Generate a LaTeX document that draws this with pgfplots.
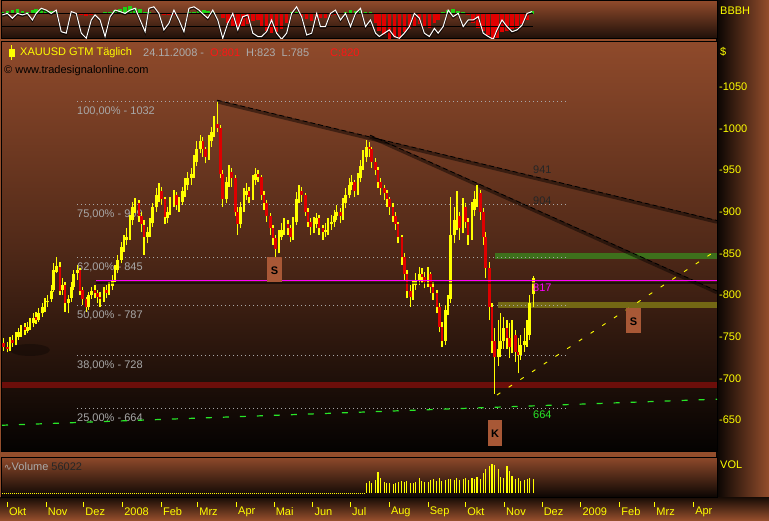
\documentclass[border=0pt]{standalone}
\usepackage{fontspec}
\setmainfont{Liberation Sans}
\newfontfamily\dejavu{DejaVu Sans}
\usepackage{pgfplots}
\pgfplotsset{compat=1.18}
\usepackage{pgfplotstable}

\definecolor{frame}{RGB}{148,78,44}
\definecolor{rightdark}{RGB}{8,4,2}
\definecolor{stripdark}{RGB}{22,11,5}
\definecolor{paneltop}{RGB}{143,74,43}
\definecolor{panelmid}{RGB}{80,41,24}
\definecolor{panelbot}{RGB}{4,2,1}
\definecolor{fibgray}{RGB}{168,168,168}
\definecolor{hdrgray}{RGB}{172,172,172}
\definecolor{hdrred}{RGB}{255,20,20}
\definecolor{candleyellow}{RGB}{255,255,0}
\definecolor{candlered}{RGB}{222,0,0}
\definecolor{bandgreen}{RGB}{62,112,28}
\definecolor{bandolive}{RGB}{115,104,20}
\definecolor{bandred}{RGB}{108,14,10}
\definecolor{fibgreen}{RGB}{40,230,40}
\definecolor{magentaline}{RGB}{255,0,255}
\definecolor{boxbrown}{RGB}{168,88,54}
\definecolor{histgreen}{RGB}{30,210,20}
\definecolor{histred}{RGB}{225,0,0}

\newcommand\lbl{\fontsize{11}{13}\selectfont}

% daily bars, x = days since 1 Oct 2007
\pgfplotstableread{
d o h l c
-3 742 748 733 738
0 738 744 731 735
2 735 750 733 745
4 746 752 738 742
7 742 756 740 750
9 750 760 746 755
11 754 764 750 760
14 761 766 752 758
16 757 768 754 762
18 762 772 758 765
21 766 778 762 772
23 773 780 765 770
25 770 784 768 778
28 778 790 774 785
30 784 796 780 790
32 791 800 786 793
35 795 812 792 805
37 806 838 804 830
39 828 846 826 835
42 834 840 800 805
44 806 820 800 812
46 812 816 780 790
49 790 800 778 795
51 796 815 792 810
53 810 830 806 825
56 826 836 818 830
58 830 832 800 805
60 806 810 788 795
63 795 798 780 785
65 786 804 782 800
67 800 810 795 805
70 806 812 796 802
72 802 806 790 798
74 798 804 786 795
77 795 810 792 805
79 806 812 796 802
81 802 816 800 810
84 811 824 806 818
86 818 836 815 830
88 830 848 826 842
91 842 864 838 858
93 858 872 852 865
95 866 880 860 870
98 870 896 866 890
100 890 912 884 905
102 905 916 898 910
105 910 914 888 895
107 895 900 875 885
109 884 890 848 870
112 870 882 862 875
114 876 892 870 885
116 886 910 882 905
119 905 928 900 920
121 920 934 912 925
123 925 930 908 915
126 915 918 885 893
128 892 906 886 900
130 900 918 896 912
133 912 926 906 920
135 920 924 902 908
137 908 918 900 912
140 912 930 908 925
142 925 940 918 932
144 932 948 926 940
147 940 952 932 945
149 945 968 940 960
151 960 985 955 975
154 975 992 970 985
156 985 990 966 975
158 975 978 958 966
161 966 992 962 985
163 985 1002 978 995
165 995 1015 990 1005
168 1005 1032 995 1000
170 1000 1004 940 945
172 945 950 906 915
175 915 942 910 935
177 935 956 930 948
179 948 952 930 940
182 940 944 895 900
184 900 906 872 885
186 885 912 880 905
189 905 928 900 920
191 920 934 914 925
193 925 930 910 918
196 918 944 914 938
198 938 952 932 945
200 945 950 935 942
203 942 944 914 920
205 920 925 902 910
207 910 914 888 895
210 895 898 872 880
212 880 884 860 868
214 868 872 845 855
217 855 878 850 870
219 870 886 866 878
221 878 892 872 885
224 885 890 872 880
226 880 884 864 870
228 870 894 866 888
231 888 924 884 915
233 915 932 910 925
235 925 930 912 920
238 920 922 895 900
240 900 904 882 888
242 888 892 872 882
245 882 894 874 885
247 885 898 880 892
249 892 896 872 880
252 880 884 866 876
254 876 886 870 878
256 878 892 872 885
259 885 896 878 888
261 888 902 882 895
263 895 908 890 900
266 900 904 886 895
268 895 916 890 910
270 910 928 904 920
273 920 940 916 932
275 932 944 926 935
277 935 938 918 925
280 925 946 920 940
282 940 962 935 955
284 955 974 950 965
287 965 986 960 978
289 978 984 966 975
291 975 978 952 960
294 960 964 944 950
296 950 954 928 935
298 935 940 920 928
301 928 932 914 922
303 922 926 906 915
305 915 918 896 905
308 905 910 888 895
310 895 900 878 885
312 885 888 862 870
315 870 872 836 845
317 845 850 818 825
319 825 830 796 805
322 805 812 786 798
324 798 818 794 812
326 812 826 806 818
329 818 834 812 825
331 825 832 814 822
333 822 828 808 815
336 815 834 810 825
338 825 828 802 810
340 810 816 794 802
343 802 806 778 785
345 785 790 755 762
347 762 768 737 745
350 745 788 740 782
352 782 800 776 795
354 795 918 790 872
357 872 905 862 890
359 890 925 878 895
361 895 900 866 880
364 880 916 874 905
366 905 910 880 888
368 888 892 860 872
371 872 912 866 902
373 902 925 895 915
375 915 932 905 922
378 922 926 890 900
380 900 904 860 870
382 870 876 820 832
385 832 840 770 785
387 785 790 730 745
389 745 760 681 725
392 725 770 715 735
394 735 778 725 745
396 745 774 735 760
399 760 770 735 748
401 748 766 724 738
403 738 770 730 752
406 752 758 720 732
408 732 748 706 728
410 728 752 722 740
413 740 760 732 745
415 745 770 738 752
417 752 800 746 790
420 801 823 785 820
}\ohlc

% oscillator (osc) and its histogram (h, around the 70 line)
\pgfplotstableread{
d osc h
-4 67 8
0 72 10
4 56 12
8 72 15
12 67 10
16 72 8
20 50 12
23 72 15
27 89 18
31 83 14
35 72 10
39 83 8
43 11 4
47 6 4
51 78 3
55 72 2
59 6 -3
63 -11 -6
67 50 -4
70 67 2
74 50 3
78 -5 5
82 61 6
86 83 12
90 78 18
94 72 22
98 83 25
102 89 20
106 50 15
110 11 8
113 89 6
117 94 4
121 72 2
125 17 -2
129 39 -4
133 83 -3
137 50 2
141 11 4
145 89 6
149 94 8
153 83 10
157 67 12
160 56 10
164 83 8
168 50 4
172 -11 -15
176 39 -30
180 72 -42
184 17 -45
188 61 -40
192 67 -35
196 6 -25
200 -5 -20
203 -5 -40
207 11 -55
211 50 -62
215 6 -60
219 -14 -50
223 6 -30
227 72 8
231 94 6
235 61 -10
239 0 -18
243 6 -22
247 72 -20
250 28 -15
254 28 -12
258 72 -8
262 83 -5
266 50 4
270 72 8
274 28 12
278 72 10
282 89 12
286 28 8
290 50 5
294 6 -30
297 -5 -55
301 6 -70
305 17 -85
309 -5 -80
313 -11 -75
317 6 -60
321 28 -50
325 72 -40
329 56 -35
333 6 -40
337 -5 -45
341 22 -30
344 6 -20
348 28 5
352 83 12
356 61 15
360 72 10
364 28 6
368 50 -5
372 50 -30
376 61 -45
380 6 -55
384 -5 -70
388 -14 -85
391 17 -80
395 50 -60
399 28 -55
403 11 -50
407 17 -45
411 33 -35
415 72 -20
419 78 10
}\osc

% traded volume
\pgfplotstableread{
d v
287 42000
289 48000
291 40000
294 52000
296 84000
298 60000
301 44000
303 40000
305 42000
308 38000
310 40000
312 46000
315 50000
317 44000
319 48000
322 42000
324 40000
326 44000
329 62000
331 48000
333 44000
336 46000
338 52000
340 56000
343 48000
345 60000
347 50000
350 52000
352 56000
354 58000
357 54000
359 60000
361 52000
364 58000
366 62000
368 54000
371 60000
373 56000
375 66000
378 58000
380 80000
382 98000
385 110000
387 118000
389 112000
392 96000
394 64000
396 60000
399 108000
401 90000
403 70000
406 56000
408 60000
410 48000
413 52000
415 56000
417 62000
420 56022
}\vol

\tikzset{
  fibdot/.style={draw=fibgray, line width=0.9pt, dash pattern=on 1pt off 3pt},
  fiblabel/.style={anchor=west, inner sep=0pt, yshift=-10pt, text=fibgray, font=\lbl},
  trendband/.style={draw=black, opacity=0.45, line width=3.5pt},
  trenddash/.style={draw=black, line width=0.8pt, dash pattern=on 5pt off 3pt},
  hdr/.style={anchor=west, inner sep=0pt, font=\lbl},
}
\pgfplotsset{panel/.style={anchor=south west, at={(0pt,0pt)}, scale only axis,
  width=715pt, xmin=-4.3, xmax=566.7}}

\begin{document}
\begin{tikzpicture}[x=1pt,y=1pt]
\fill[frame] (0,0) rectangle (769,520);
\shade[left color=rightdark, right color=frame] (716,22) rectangle (769,520);
\shade[top color=stripdark, bottom color=frame] (0,0) rectangle (769,23);

% oscillator panel
\begin{scope}[shift={(2pt,481pt)}]
\begin{axis}[panel, height=38pt, ymin=-13.3, ymax=113.3,
  xtick=\empty, ytick=\empty, axis line style={black, line width=1pt},
  axis background/.style={top color=paneltop, bottom color=black!80!paneltop}]
\addplot[histgreen, line width=3.6pt, quiver={u=0, v={max(\thisrow{h},0)}}] table[x=d, y expr=70] {\osc};
\addplot[histred, line width=3.6pt, quiver={u=0, v={min(\thisrow{h},0)}}] table[x=d, y expr=70] {\osc};
\addplot[black, line width=1pt] coordinates {(-4,70) (420,70)};
\addplot[black, line width=1pt] coordinates {(-4,30) (420,30)};
\addplot[black, opacity=0.7, line width=1.6pt] table[x=d, y expr=\thisrow{osc}-4] {\osc};
\addplot[white, line width=1pt] table[x=d, y=osc] {\osc};
\end{axis}
\end{scope}

% price panel
\begin{scope}[shift={(2pt,68pt)}]
\begin{axis}[panel, height=410pt, ymin=611.6, ymax=1103.6,
  axis line style={black, line width=1pt},
  axis background/.style={top color=paneltop, bottom color=panelbot, middle color=panelmid},
  xtick=\empty,
  ytick={650,700,750,800,850,900,950,1000,1050},
  yticklabels={-650,-700,-750,-800,-850,-900,-950,-1000,-1050},
  yticklabel pos=right, ytick style={draw=none},
  yticklabel style={font=\lbl, text=candleyellow, anchor=west, inner sep=0pt, xshift=2pt}]
% support and resistance zones
\fill[bandred] (axis cs:-4.3,688.2) rectangle (axis cs:566.7,695.4);
\fill[bandgreen] (axis cs:389.4,843) rectangle (axis cs:566.7,850.5);
\fill[bandolive] (axis cs:391.8,784) rectangle (axis cs:566.7,791);
\fill[black, opacity=0.3] (axis cs:18,734) ellipse [x radius=20pt, y radius=6pt];
% Fibonacci retracements
\addplot[fibdot] coordinates {(55.6,1032) (446.9,1032)};
\addplot[fibdot] coordinates {(55.6,909) (446.9,909)};
\addplot[fibdot] coordinates {(55.6,845) (446.9,845)};
\addplot[fibdot] coordinates {(55.6,787) (446.9,787)};
\addplot[fibdot] coordinates {(55.6,728) (446.9,728)};
\addplot[fibdot] coordinates {(55.6,664) (446.9,664)};
\node[fiblabel] at (axis cs:55.6,1032) {100,00\% - 1032};
\node[fiblabel] at (axis cs:55.6,909) {75,00\% - 909};
\node[fiblabel] at (axis cs:55.6,845) {62,00\% - 845};
\node[fiblabel] at (axis cs:55.6,787) {50,00\% - 787};
\node[fiblabel] at (axis cs:55.6,728) {38,00\% - 728};
\node[fiblabel] at (axis cs:55.6,664) {25,00\% - 664};
% trend lines
\addplot[trendband] coordinates {(167.4,1032) (566.7,887.6)};
\addplot[trenddash] coordinates {(167.4,1033.8) (566.7,889.4)};
\addplot[trendband] coordinates {(289.6,990) (566.7,803)};
\addplot[trenddash] coordinates {(289.6,991.8) (566.7,804.8)};
% candles: wicks, falling bodies, rising bodies
\addplot[candleyellow, line width=1.4pt, quiver={u=0, v=\thisrow{h}-\thisrow{l}}] table[x=d, y=l] {\ohlc};
\addplot[candlered, line width=2.6pt, quiver={u=0, v={max(\thisrow{o}-\thisrow{c},0)}}] table[x=d, y=c] {\ohlc};
\addplot[candleyellow, line width=2.6pt, quiver={u=0, v={max(\thisrow{c}-\thisrow{o},0)}}] table[x=d, y=o] {\ohlc};
% horizontal line and channels
\addplot[black, opacity=0.55, line width=1.5pt] coordinates {(70.8,814.6) (566.7,814.6)};
\addplot[magentaline, line width=1.2pt] coordinates {(70.8,817) (566.7,817)};
\addplot[fibgreen, line width=1.2pt, dash pattern=on 6pt off 11pt] coordinates {(-4.3,643.7) (566.7,675)};
\addplot[candleyellow, line width=0.9pt, dash pattern=on 4pt off 10pt] coordinates {(391,680) (566.7,854)};
\node[anchor=west, inner sep=0pt, font=\lbl, text=black!85] at (axis cs:419.7,950) {941};
\node[anchor=west, inner sep=0pt, font=\lbl, text=black!85] at (axis cs:419.7,913) {904};
\node[anchor=west, inner sep=0pt, font=\lbl, text=magentaline] at (axis cs:419.7,809) {817};
\node[anchor=west, inner sep=0pt, font=\lbl, text=fibgreen] at (axis cs:419.7,656) {664};
% signal boxes
\fill[boxbrown] (axis cs:207.3,815.6) rectangle (axis cs:219.3,845.6);
\node[font=\lbl\bfseries, text=black] at (axis cs:213.3,829) {S};
\fill[boxbrown] (axis cs:494,754.7) rectangle (axis cs:506,784.6);
\node[font=\lbl\bfseries, text=black] at (axis cs:500,768) {S};
\fill[boxbrown] (axis cs:383.8,619) rectangle (axis cs:395,650);
\node[font=\lbl\bfseries, text=black] at (axis cs:389.4,634) {K};
\end{axis}
\end{scope}

% volume panel
\begin{scope}[shift={(2pt,23pt)}]
\begin{axis}[panel, height=40pt, ymin=-16000, ymax=144000,
  xtick=\empty, ytick=\empty, axis line style={black, line width=1pt},
  axis background/.style={top color=paneltop, bottom color=black!92!paneltop}]
\addplot[candleyellow, line width=0.8pt, dash pattern=on 1pt off 1pt] coordinates {(-4,0) (286,0)};
\addplot[candleyellow, line width=1.1pt, ycomb] table[x=d, y=v] {\vol};
\end{axis}
\end{scope}

% date axis
\begin{scope}[shift={(2pt,13pt)}]
\begin{axis}[panel, height=6pt, ymin=0, ymax=1,
  axis line style={draw=none}, ytick=\empty, xtick pos=left,
  tick align=inside, major tick length=5pt,
  xtick style={draw=candleyellow, line width=0.9pt},
  xtick={0,31,61,92,123,152,183,213,244,274,305,336,366,397,427,458,489,517,548},
  xticklabels={Okt,Nov,Dez,2008,Feb,Mrz,Apr,Mai,Jun,Jul,Aug,Sep,Okt,Nov,Dez,2009,Feb,Mrz,Apr},
  xticklabel style={font=\lbl, text=candleyellow, anchor=west, inner sep=0pt, xshift=1.5pt, yshift=-5pt}]
\end{axis}
\end{scope}

% header and panel captions
\draw[candleyellow, line width=1pt] (11.5,475) -- (11.5,460);
\fill[candleyellow] (8.5,463.3) rectangle (14.5,471);
\node[hdr, text=candleyellow] at (20,467) {XAUUSD GTM Täglich};
\node[hdr, text=hdrgray] at (143,467) {24.11.2008 -};
\node[hdr, text=hdrred] at (210,467) {O:801};
\node[hdr, text=hdrgray] at (246,467) {H:823 \ L:785};
\node[hdr, text=hdrred] at (330,467) {C:820};
\node[hdr, text=black] at (4,449) {© www.tradesignalonline.com};
\node[hdr] at (4,53.5)
  {\textcolor{hdrgray}{{\dejavu\fontsize{9}{11}\selectfont ∿}Volume} \textcolor{black!85}{56022}};
\node[hdr, text=candleyellow] at (720,468) {\$};
\node[hdr, text=candleyellow] at (720,509.5) {BBBH};
\node[hdr, text=candleyellow] at (720,55) {VOL};
\end{tikzpicture}
\end{document}
